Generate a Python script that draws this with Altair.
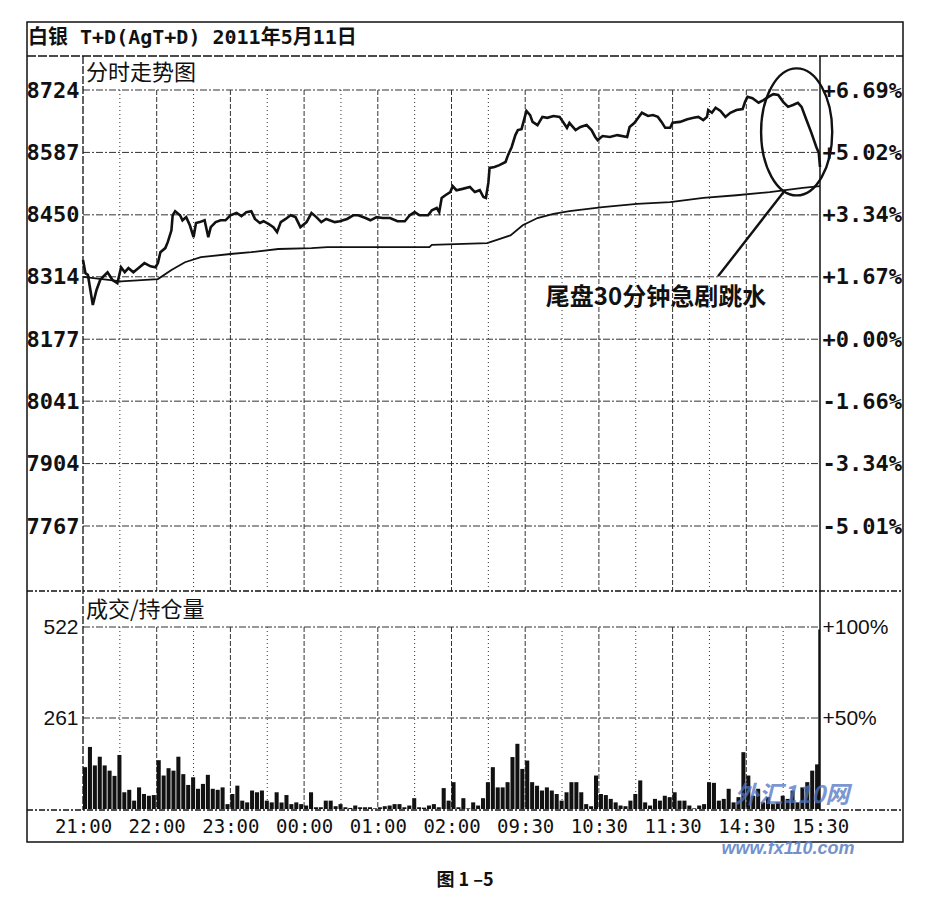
import altair as alt
import pandas as pd

# ---------------- texts ----------------
TITLE = "白银 T+D(AgT+D) 2011年5月11日"
PANEL_PRICE = "分时走势图"
PANEL_VOL = "成交/持仓量"
NOTE = "尾盘30分钟急剧跳水"
CAPTION = "图 1 –5"
WM1 = "外汇110网"
WM2 = "www.fx110.com"

# ---------------- axes / ticks ----------------
time_ticks = [0, 60, 120, 180, 240, 300, 360, 420, 480, 540, 600]
time_labels = ["21:00", "22:00", "23:00", "00:00", "01:00", "02:00",
               "09:30", "10:30", "11:30", "14:30", "15:30"]
grid_minutes = [30, 60, 90, 120, 150, 180, 210, 240, 270, 300, 330, 360,
                390, 420, 450, 480, 510, 540, 570]
grid_kind = ["minor", "major", "minor", "major", "minor", "major", "minor", "major",
             "minor", "major", "minor", "major", "minor", "major", "minor", "major",
             "minor", "major", "minor"]
price_ticks = [8724, 8587, 8450, 8314, 8177, 8041, 7904, 7767]
pct_labels = ["+6.69%", "+5.02%", "+3.34%", "+1.67%", "+0.00%", "-1.66%", "-3.34%", "-5.01%"]
vol_ticks = [522, 261]
vol_pct_labels = ["+100%", "+50%"]

# ---------------- price series (minute index, price) ----------------
price_t = [0, 2, 4, 8, 11, 14, 16, 20, 24, 28, 31, 34, 37, 41, 45, 50, 55, 59, 61, 63,
           67, 69, 72, 73, 75, 79, 81, 84, 87, 90, 92, 95, 99, 102, 104, 108, 112, 116,
           120, 125, 129, 133, 137, 140, 144, 147, 151, 155, 158, 161, 165, 169, 173,
           177, 182, 186, 190, 194, 198, 205, 209, 215, 220, 224, 230, 234, 239, 244,
           250, 256, 262, 266, 270, 274, 281, 284, 288, 290, 292, 295, 299, 301, 304,
           309, 315, 319, 323, 326, 328, 330, 331, 335, 339, 344, 346, 349, 352, 354,
           357, 359, 361, 364, 366, 370, 374, 378, 383, 388, 394, 396, 401, 405, 410,
           414, 417, 419, 423, 429, 435, 443, 445, 449, 452, 455, 460, 464, 468, 471,
           474, 478, 480, 486, 492, 497, 501, 505, 508, 509, 512, 515, 519, 523, 527,
           532, 537, 539, 541, 545, 550, 554, 558, 562, 566, 570, 574, 578, 582, 585,
           589, 593, 597, 599, 600]
price_v = [8351, 8322, 8318, 8252, 8285, 8307, 8313, 8324, 8307, 8300, 8335, 8324, 8333,
           8324, 8333, 8344, 8337, 8335, 8344, 8368, 8377, 8390, 8416, 8449, 8458, 8449,
           8438, 8445, 8427, 8401, 8432, 8434, 8438, 8401, 8423, 8434, 8438, 8438, 8449,
           8454, 8447, 8456, 8458, 8441, 8432, 8436, 8430, 8423, 8412, 8434, 8441, 8449,
           8445, 8423, 8434, 8454, 8445, 8434, 8441, 8434, 8436, 8441, 8449, 8449, 8443,
           8438, 8445, 8443, 8443, 8436, 8436, 8449, 8456, 8449, 8449, 8460, 8465, 8456,
           8487, 8493, 8500, 8513, 8504, 8507, 8511, 8500, 8504, 8489, 8487, 8520, 8553,
           8555, 8559, 8566, 8581, 8599, 8625, 8636, 8638, 8658, 8678, 8669, 8654, 8647,
           8665, 8663, 8667, 8665, 8641, 8652, 8636, 8643, 8647, 8636, 8621, 8614, 8623,
           8621, 8625, 8621, 8643, 8652, 8663, 8674, 8667, 8669, 8665, 8654, 8641, 8641,
           8652, 8654, 8660, 8663, 8665, 8658, 8665, 8680, 8674, 8685, 8678, 8665, 8674,
           8680, 8682, 8698, 8709, 8706, 8696, 8702, 8709, 8715, 8713, 8698, 8687, 8691,
           8696, 8687, 8658, 8630, 8599, 8586, 8555]

# ---------------- average price ----------------
avg_t = [0, 12, 31, 61, 72, 83, 96, 120, 137, 159, 186, 199, 282, 284, 329, 337, 348,
         358, 370, 383, 396, 423, 451, 478, 505, 532, 559, 586, 600]
avg_v = [8314, 8310, 8304, 8309, 8329, 8346, 8357, 8364, 8368, 8375, 8377, 8379, 8379,
         8384, 8388, 8395, 8405, 8427, 8443, 8452, 8458, 8467, 8474, 8478, 8487, 8493,
         8500, 8509, 8513]

# ---------------- volume (4-minute bins) + closing spike ----------------
vol_v = [120, 178, 125, 150, 125, 110, 95, 155, 48, 55, 24, 62, 43, 38, 40, 140, 96, 117,
         110, 150, 100, 69, 91, 58, 72, 98, 58, 55, 62, 14, 43, 67, 24, 19, 53, 48, 53, 24,
         19, 48, 19, 40, 14, 19, 14, 10, 48, 5, 5, 24, 24, 8, 14, 5, 3, 10, 5, 5, 5, 2, 5,
         8, 10, 14, 14, 5, 10, 31, 5, 4, 10, 14, 5, 60, 24, 77, 5, 31, 2, 19, 10, 31, 77,
         120, 62, 62, 77, 149, 187, 115, 139, 77, 67, 53, 62, 53, 43, 24, 48, 77, 77, 48,
         14, 8, 96, 43, 40, 29, 19, 10, 8, 24, 43, 82, 19, 10, 29, 24, 38, 34, 48, 24, 24,
         10, 2, 10, 14, 77, 75, 24, 29, 58, 19, 34, 163, 96, 38, 58, 19, 34, 14, 19, 38,
         29, 53, 19, 62, 77, 110, 128]
vol_t = [4 * i for i in range(len(vol_v))]
spike_t = [598.6]
spike_v = [515]

# ---------------- annotation anchors (data units) ----------------
ELL_T, ELL_P = 581, 8632
PTR_T1, PTR_P1, PTR_T2, PTR_P2 = 571.5, 8504, 517, 8315
NOTE_T, NOTE_P = 466.5, 8267

# ---------------- layout (pixels inside the framed view) ----------------
W, H = 876, 820
X0, X1 = 56, 793               # minute 0 / minute 600
Y_TITLE_LINE = 34
Y_SEP = 569
Y_BASE = 787
P_HI, PY_HI = 8724, 68
P_LO, PY_LO = 7767, 504
V_HI, VY_HI = 522, 605

sx = (X1 - X0) / 600.0
xdom = [-X0 / sx, 600 + (W - X1) / sx]
kp = (P_HI - P_LO) / (PY_LO - PY_HI)
pdom = [P_LO - (H - PY_LO) * kp, P_HI + PY_HI * kp]
kv = V_HI / (Y_BASE - VY_HI)
vdom = [-(H - Y_BASE) * kv, V_HI + VY_HI * kv]

xs = alt.Scale(domain=xdom, nice=False, zero=False)
ps = alt.Scale(domain=pdom, nice=False, zero=False)
vs = alt.Scale(domain=vdom, nice=False, zero=False)

MONO = "DejaVu Sans Mono"
SANS = "Liberation Sans"
CJK = "Noto Sans CJK SC"
INK = "#111111"
GRID = "#333333"


def label_expr(vals, labels):
    e = "''"
    for v, l in reversed(list(zip(vals, labels))):
        e = f"datum.value == {v} ? '{l}' : {e}"
    return e


xaxis = alt.Axis(orient="bottom", offset=-(H - Y_BASE - 1), values=time_ticks,
                 labelExpr=label_expr(time_ticks, time_labels), domain=False, ticks=False,
                 grid=False, title=None, labelFont=MONO, labelFontSize=19, labelColor=INK,
                 labelPadding=7, labelFlush=False, labelOverlap=False)
paxis = alt.Axis(orient="left", offset=-X0, values=price_ticks, format="d", domain=False,
                 ticks=False, grid=False, title=None, labelFont=MONO, labelFontSize=22,
                 labelFontWeight="bold", labelColor=INK, labelPadding=4, labelOverlap=False)
pctaxis = alt.Axis(orient="right", offset=-(W - X1), values=price_ticks,
                   labelExpr=label_expr(price_ticks, pct_labels), domain=False, ticks=False,
                   grid=False, title=None, labelFont=MONO, labelFontSize=22,
                   labelFontWeight="bold", labelColor=INK, labelPadding=2, labelOverlap=False)
vaxis = alt.Axis(orient="left", offset=-X0, values=vol_ticks, format="d", domain=False,
                 ticks=False, grid=False, title=None, labelFont=SANS, labelFontSize=21,
                 labelColor=INK, labelPadding=5, labelOverlap=False)
vpctaxis = alt.Axis(orient="right", offset=-(W - X1), values=vol_ticks,
                    labelExpr=label_expr(vol_ticks, vol_pct_labels), domain=False,
                    ticks=False, grid=False, title=None, labelFont=SANS, labelFontSize=21,
                    labelColor=INK, labelPadding=2, labelOverlap=False)


def X(field):
    return alt.X(field, type="quantitative", scale=xs, axis=xaxis)


price_df = pd.DataFrame({"t": price_t, "p": price_v})
avg_df = pd.DataFrame({"t": avg_t, "p": avg_v})
vol_df = pd.DataFrame({"t": vol_t, "v": vol_v})
vol_df["t2"] = vol_df["t"] + 3.3
vol_df["base"] = 0
spike_df = pd.DataFrame({"t": spike_t, "v": spike_v})
spike_df["t2"] = 600
spike_df["base"] = 0
ptick_df = pd.DataFrame({"p": price_ticks})
vtick_df = pd.DataFrame({"v": vol_ticks})
grid_df = pd.DataFrame({"t": grid_minutes, "kind": grid_kind})
one = pd.DataFrame({"a": [0]})

PY = lambda: alt.Y("p:Q", scale=ps, axis=paxis)
VY = lambda: alt.Y("v:Q", scale=vs, axis=vaxis)

# ---- price group (left axis) ----
avg_line = alt.Chart(avg_df).mark_line(color=INK, strokeWidth=1.8).encode(x=X("t"), y=PY())
price_line = alt.Chart(price_df).mark_line(color=INK, strokeWidth=2.6).encode(x=X("t"), y=PY())

k = 0.5523
rx = 0.56
ell_path = (f"M0,-1 C{rx*k:.4f},-1 {rx},{-k} {rx},0 "
            f"C{rx},{k} {rx*k:.4f},1 0,1 "
            f"C{-rx*k:.4f},1 {-rx},{k} {-rx},0 "
            f"C{-rx},{-k} {-rx*k:.4f},-1 0,-1 Z")
ell = alt.Chart(pd.DataFrame({"t": [ELL_T], "p": [ELL_P]})).mark_point(
    shape=ell_path, size=127 * 127, filled=False, color=INK, strokeWidth=2.4, opacity=1
).encode(x=X("t"), y=PY())
ptr = alt.Chart(pd.DataFrame({"t": [PTR_T1], "p": [PTR_P1], "t2": [PTR_T2], "p2": [PTR_P2]})).mark_rule(
    color=INK, strokeWidth=2.4
).encode(x=X("t"), y=PY(), x2="t2:Q", y2="p2:Q")
note = alt.Chart(pd.DataFrame({"t": [NOTE_T], "p": [NOTE_P], "s": [NOTE]})).mark_text(
    font=CJK, fontSize=24, fontWeight="bold", color=INK, align="center", baseline="middle"
).encode(x=X("t"), y=PY(), text="s:N")
price_group = alt.layer(avg_line, price_line, ell, ptr, note)

# ---- price grid (right % axis) ----
price_grid = alt.Chart(ptick_df).mark_rule(color=GRID, strokeWidth=1, strokeDash=[7, 2, 2, 2]).encode(
    y=alt.Y("p:Q", scale=ps, axis=pctaxis), x=alt.value(X0), x2=alt.value(X1)
)

# ---- volume group (left axis) ----
bars = alt.Chart(vol_df).mark_rect(color=INK).encode(
    x=X("t"), x2="t2:Q", y=VY(), y2="base:Q")
spike = alt.Chart(spike_df).mark_rect(color=INK).encode(
    x=X("t"), x2="t2:Q", y=VY(), y2="base:Q")
vol_group = alt.layer(bars, spike)

# ---- volume grid (right % axis) ----
vol_grid = alt.Chart(vtick_df).mark_rule(color=GRID, strokeWidth=1, strokeDash=[7, 2, 2, 2]).encode(
    y=alt.Y("v:Q", scale=vs, axis=vpctaxis), x=alt.value(X0), x2=alt.value(X1)
)

# ---- vertical grid ----
dash_scale = alt.Scale(domain=["major", "minor"], range=[[5, 2], [1, 3]])
vgrid_up = alt.Chart(grid_df).mark_rule(color=GRID, strokeWidth=1).encode(
    x=X("t"), y=alt.value(PY_HI), y2=alt.value(Y_SEP),
    strokeDash=alt.StrokeDash("kind:N", scale=dash_scale, legend=None))
vgrid_lo = alt.Chart(grid_df).mark_rule(color=GRID, strokeWidth=1).encode(
    x=X("t"), y=alt.value(VY_HI), y2=alt.value(Y_BASE),
    strokeDash=alt.StrokeDash("kind:N", scale=dash_scale, legend=None))


# ---- frame furniture ----
def hline(y, x0, x1, dash, w=1.3):
    return alt.Chart(one).mark_rule(color=INK, strokeWidth=w, strokeDash=dash).encode(
        x=alt.value(x0), x2=alt.value(x1), y=alt.value(y))


def vline(x, y0, y1, dash, w=1.3):
    return alt.Chart(one).mark_rule(color=INK, strokeWidth=w, strokeDash=dash).encode(
        y=alt.value(y0), y2=alt.value(y1), x=alt.value(x))


def label(s, x, y, font, size, weight="normal", align="left", color=INK, italic=False, opacity=1.0):
    return alt.Chart(pd.DataFrame({"s": [s]})).mark_text(
        font=font, fontSize=size, fontWeight=weight, align=align, baseline="middle",
        color=color, fontStyle="italic" if italic else "normal", opacity=opacity
    ).encode(x=alt.value(x), y=alt.value(y), text="s:N")


frame = alt.layer(
    hline(Y_TITLE_LINE, 0, W, [9, 2]),
    hline(Y_SEP, 0, W, [6, 2, 2, 2]),
    hline(Y_BASE + 1, 0, W, [6, 2, 2, 2]),
    vline(X0, Y_TITLE_LINE, Y_BASE + 1, [8, 2]),
    vline(X1, Y_TITLE_LINE, Y_BASE + 1, [], 1.5),
)

texts = alt.layer(
    label(TITLE, 1, 16, f"{MONO}, {CJK}", 20, "bold"),
    label(PANEL_PRICE, 59, 51, CJK, 22),
    label(PANEL_VOL, 59, 588, CJK, 22),
    label(WM1, 765, 774, CJK, 24, "bold", "center", "#4f74c2", True, 0.75),
    label(WM2, 761, 827, SANS, 18, "bold", "center", "#5b7fc4", True, 0.85),
    label(CAPTION, 438, 859, CJK, 18, "bold", "center"),
)

chart = alt.layer(
    vgrid_up, vgrid_lo, price_grid, vol_grid, price_group, vol_group, frame, texts
).resolve_scale(y="independent").properties(
    width=W, height=H,
    autosize=alt.AutoSizeParams(type="none"),
    padding={"left": 19, "top": 14, "right": 10, "bottom": 60},
).configure(background="white").configure_view(stroke=INK, strokeWidth=1.5)

chart.save("out.html", embed_options={"renderer": "svg", "actions": False})
